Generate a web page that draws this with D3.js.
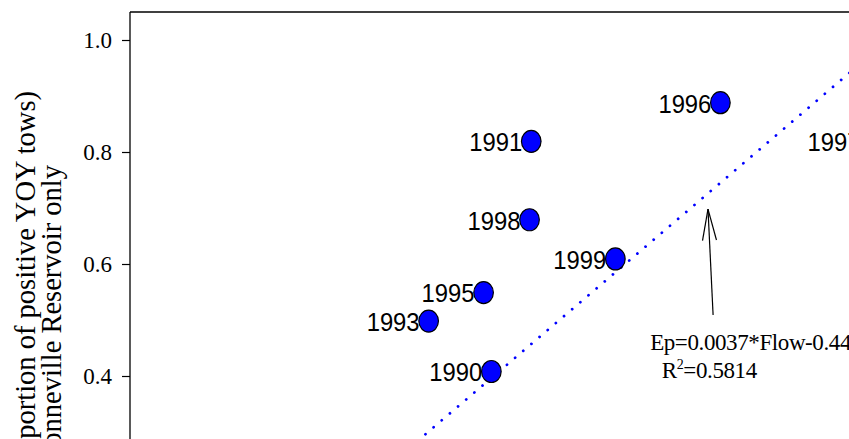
<!DOCTYPE html>
<html><head><meta charset="utf-8">
<script src="https://cdn.jsdelivr.net/npm/d3@7"></script>
<style>html,body{margin:0;padding:0;background:#fff;overflow:hidden}</style>
</head><body>
<svg id="c" width="849" height="439"></svg>
<script>
// ---- data ----
const years = ["1990","1991","1993","1995","1996","1997","1998","1999"];
const flow  = [227.4, 243.8, 201.6, 224.2, 321.6, 382.9, 243.1, 278.4];
const ep    = [0.408, 0.819, 0.498, 0.549, 0.888, 0.82, 0.679, 0.609];
const yTicks = [0.2, 0.4, 0.6, 0.8, 1.0];
const regSlope = 0.0037, regIntercept = -0.445;
const eqText = "Ep=0.0037*Flow-0.445";
const r2Text = "0.5814";
const yTitle1 = "Ep (proportion of positive YOY tows)";
const yTitle2 = "Bonneville Reservoir only";
// annotation anchors (data coords)
const arrowTip = [316.5, 0.698], arrowTail = [318.6, 0.509];
const eqPos = [292.7, 0.446], r2Pos = [297.5, 0.396];

// ---- layout ----
const svg = d3.select("#c");
const padL = 130, padT = 12;
const x = d3.scaleLinear().domain([80, 400]).range([133, 911]);
const y = d3.scaleLinear().domain([0, 1]).range([600, 40]);

svg.append("clipPath").attr("id","plot").append("rect")
  .attr("x", padL).attr("y", padT).attr("width", 1000).attr("height", 1000);

// frame
svg.append("line").attr("x1", padL).attr("x2", 1000).attr("y1", padT).attr("y2", padT)
  .attr("stroke","#000").attr("stroke-width",1.3);
svg.append("line").attr("x1", padL).attr("x2", padL).attr("y1", padT).attr("y2", 700)
  .attr("stroke","#000").attr("stroke-width",1.3);

// y axis
const yAxis = d3.axisLeft(y).tickValues(yTicks).tickFormat(d3.format(".1f")).tickSize(8).tickPadding(10);
const ga = svg.append("g").attr("transform", `translate(${padL},0)`).call(yAxis);
ga.select(".domain").remove();
ga.selectAll(".tick line").attr("stroke","#000").attr("stroke-width",1.2);
ga.selectAll(".tick text").attr("font-family","'Liberation Serif','Times New Roman',serif")
  .attr("font-size", 23).attr("fill","#000").attr("dy","0.33em");

// y title
const tt = svg.append("g").attr("font-family","'Liberation Serif','Times New Roman',serif")
  .attr("font-size", 28.5).attr("fill","#000");
tt.append("text").attr("transform","translate(35,91) rotate(-90)").attr("text-anchor","end").text(yTitle1);
tt.append("text").attr("transform","translate(61,165) rotate(-90)").attr("text-anchor","end").text(yTitle2);

const plot = svg.append("g").attr("clip-path","url(#plot)");

// regression line (dotted)
const fx = [150, 420];
plot.append("line")
  .attr("x1", x(fx[0])).attr("y1", y(regSlope*fx[0]+regIntercept))
  .attr("x2", x(fx[1])).attr("y2", y(regSlope*fx[1]+regIntercept))
  .attr("stroke","#0000ff").attr("stroke-width",2.8).attr("stroke-linecap","round")
  .attr("stroke-dasharray","0.01 10.7");

// arrow
const tx = x(arrowTip[0]), ty = y(arrowTip[1]);
const sx = x(arrowTail[0]), sy = y(arrowTail[1]);
plot.append("line").attr("x1", sx).attr("y1", sy).attr("x2", tx).attr("y2", ty)
  .attr("stroke","#000").attr("stroke-width",1.2);
const ang = Math.atan2(sy-ty, sx-tx);
[-0.22, 0.22].forEach(a => {
  plot.append("line").attr("x1", tx).attr("y1", ty)
    .attr("x2", tx + 32*Math.cos(ang+a)).attr("y2", ty + 32*Math.sin(ang+a))
    .attr("stroke","#000").attr("stroke-width",1.2);
});

// equation text
const ser = "'Liberation Serif','Times New Roman',serif";
plot.append("text").attr("x", x(eqPos[0])).attr("y", y(eqPos[1]))
  .attr("font-family", ser).attr("font-size", 23).attr("letter-spacing", -0.4).text(eqText);
const r2 = plot.append("text").attr("x", x(r2Pos[0])).attr("y", y(r2Pos[1]))
  .attr("font-family", ser).attr("font-size", 23).attr("letter-spacing", -0.4);
r2.append("tspan").text("R");
r2.append("tspan").attr("font-size", 14).attr("dy", -9).text("2");
r2.append("tspan").attr("dy", 9).text("=" + r2Text);

// points
const pts = plot.selectAll("g.pt").data(years.map((yr,i)=>({yr, f: flow[i], v: ep[i]})))
  .enter().append("g").attr("class","pt");
pts.append("text")
  .attr("x", d => x(d.f) - 9).attr("y", d => y(d.v) + 9.8)
  .attr("text-anchor","end")
  .attr("font-family","'Liberation Sans',Arial,sans-serif").attr("font-size", 26)
  .attr("textLength", 53).attr("lengthAdjust","spacingAndGlyphs")
  .attr("fill","#000").text(d => d.yr);
pts.append("ellipse")
  .attr("cx", d => x(d.f)).attr("cy", d => y(d.v)).attr("rx", 9.8).attr("ry", 11)
  .attr("fill","#0000ff").attr("stroke","#000").attr("stroke-width",1.2);
</script>
</body></html>
